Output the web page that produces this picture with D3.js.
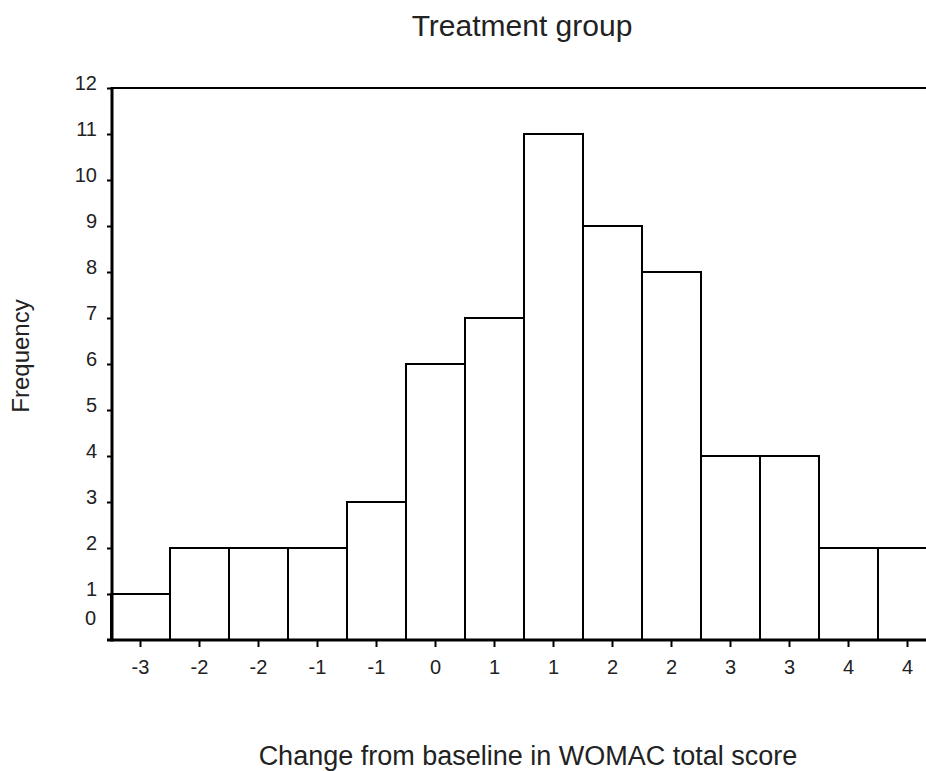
<!DOCTYPE html>
<html>
<head>
<meta charset="utf-8">
<script src="https://cdn.jsdelivr.net/npm/d3@7"></script>
<style>
  html, body { margin: 0; padding: 0; background: #fff; }
  svg { display: block; }
  text { font-family: "Liberation Sans", Arial, Helvetica, sans-serif; fill: #222; }
</style>
</head>
<body>
<svg id="chart" width="926" height="771"></svg>
<script>
// ---- data ----
const binLabels = ["-3","-2","-2","-1","-1","0","1","1","2","2","3","3","4","4"];
const frequencies = [1, 2, 2, 2, 3, 6, 7, 11, 9, 8, 4, 4, 2, 2];
const yTicks = [0,1,2,3,4,5,6,7,8,9,10,11,12];
const chartTitle = "Treatment group";
const xTitle = "Change from baseline in WOMAC total score";
const yTitle = "Frequency";

// ---- layout ----
const W = 926, H = 771;
const plotLeft = 111, binW = 59, plotTop = 88, plotBottom = 640;
const svg = d3.select("#chart");

const x = d3.scaleBand()
  .domain(d3.range(frequencies.length))
  .range([plotLeft, plotLeft + binW * frequencies.length])
  .padding(0);
const y = d3.scaleLinear().domain([0, 12]).range([plotBottom, plotTop]);

// bars
svg.append("g").selectAll("rect")
  .data(frequencies)
  .join("rect")
  .attr("x", (d, i) => x(i))
  .attr("y", d => y(d))
  .attr("width", x.bandwidth())
  .attr("height", d => y(0) - y(d))
  .attr("fill", "#fff")
  .attr("stroke", "#000")
  .attr("stroke-width", 2);

// top frame line
svg.append("line")
  .attr("x1", plotLeft).attr("x2", W)
  .attr("y1", y(12)).attr("y2", y(12))
  .attr("stroke", "#000").attr("stroke-width", 2);

// y axis
const yAxis = svg.append("g")
  .attr("transform", `translate(${plotLeft + 1},0)`)
  .call(d3.axisLeft(y).tickValues(yTicks.filter(v => v > 0)).tickSize(5).tickPadding(8).tickFormat(d3.format("d")));
yAxis.select(".domain").remove();
yAxis.selectAll(".tick line").attr("stroke", "#000").attr("stroke-width", 2);
yAxis.selectAll(".tick text")
  .attr("font-size", "20px")
  .attr("dy", "0.05em")
  .attr("x", -15);
// zero label (sits above the baseline in the reference)
svg.append("text")
  .attr("x", plotLeft - 15).attr("y", y(0) - 15)
  .attr("text-anchor", "end").attr("font-size", "20px")
  .text(d3.format("d")(yTicks[0]));
svg.append("line")
  .attr("x1", plotLeft + 1).attr("x2", plotLeft + 1)
  .attr("y1", y(12) - 1).attr("y2", y(0) + 1.5)
  .attr("stroke", "#000").attr("stroke-width", 3);

// x axis
const xAxis = svg.append("g")
  .attr("transform", `translate(0,${plotBottom})`)
  .call(d3.axisBottom(x).tickSize(7).tickPadding(13).tickFormat(i => binLabels[i]));
xAxis.select(".domain").remove();
xAxis.selectAll(".tick line").attr("stroke", "#000").attr("stroke-width", 2);
xAxis.selectAll(".tick text").attr("font-size", "20px");
svg.append("line")
  .attr("x1", plotLeft - 4).attr("x2", W)
  .attr("y1", plotBottom).attr("y2", plotBottom)
  .attr("stroke", "#000").attr("stroke-width", 3);

// titles
svg.append("text")
  .attr("x", 522).attr("y", 36)
  .attr("text-anchor", "middle").attr("font-size", "30px")
  .text(chartTitle);
svg.append("text")
  .attr("x", 528).attr("y", 765)
  .attr("text-anchor", "middle").attr("font-size", "27px")
  .text(xTitle);
svg.append("text")
  .attr("transform", "translate(29,356) rotate(-90)")
  .attr("text-anchor", "middle").attr("font-size", "24px")
  .text(yTitle);
</script>
</body>
</html>
